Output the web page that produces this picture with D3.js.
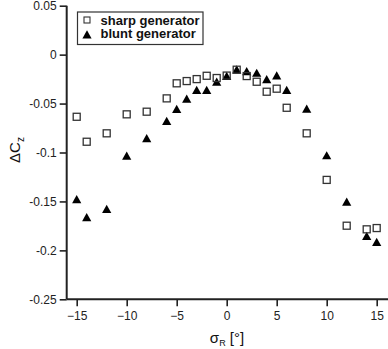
<!DOCTYPE html>
<html>
<head>
<meta charset="utf-8">
<script src="https://cdn.jsdelivr.net/npm/d3@7"></script>
<style>
body{margin:0;background:#fff;}
svg{display:block;font-family:"Liberation Sans",Arial,Helvetica,sans-serif;}
.tick text{font-size:12px;fill:#222;}
</style>
</head>
<body>
<svg id="myGraph" width="388" height="349"></svg>
<script>
// angle values (deg)
var sigma = [-15,-14,-12,-10,-8,-6,-5,-4,-3,-2,-1,0,1,2,3,4,5,6,8,10,12,14,15];
// sharp generator
var sharp = [-0.0635,-0.089,-0.0804,-0.061,-0.0583,-0.0447,-0.0293,-0.027,-0.025,-0.0216,-0.0239,-0.0214,
	-0.0154,-0.0219,-0.0277,-0.0379,-0.0348,-0.0543,-0.0804,-0.128,-0.1748,-0.1785,-0.1772];
// blunt generator
var blunt = [-0.1478,-0.1662,-0.1578,-0.1033,-0.0855,-0.0678,-0.0556,-0.0451,-0.0362,-0.0362,-0.0277,-0.0219,
	-0.0152,-0.017,-0.0186,-0.0251,-0.0212,-0.0362,-0.0553,-0.1029,-0.1503,-0.1853,-0.1915];
var xTicks = [-15,-10,-5,0,5,10,15];
var yTicks = [0.05,0,-0.05,-0.1,-0.15,-0.2,-0.25];
var seriesNames = ["sharp generator","blunt generator"];

var svg = d3.select("#myGraph");

var x = d3.scaleLinear().domain([-16,16]).range([66.7,386.7]);
var y = d3.scaleLinear().domain([-0.25,0.05]).range([299.3,5.7]);

var xAxis = svg.append("g")
	.attr("transform","translate(0,"+y(-0.25)+")")
	.call(d3.axisBottom(x).tickValues(xTicks).tickSize(7).tickPadding(5).tickFormat(d3.format("d")));
var yAxis = svg.append("g")
	.attr("transform","translate("+x(-16)+",0)")
	.call(d3.axisLeft(y).tickValues(yTicks).tickSize(7).tickPadding(3).tickFormat(function(d){return d===0?"0":String(d);}));

[xAxis,yAxis].forEach(function(g){
	g.select(".domain").attr("stroke","#222").attr("stroke-width",2);
	g.selectAll(".tick line").attr("stroke","#222").attr("stroke-width",1.6);
});
xAxis.select(".domain").attr("d","M"+x(-16)+",0H388");
yAxis.select(".domain").attr("d","M0,"+y(0.05)+"V"+y(-0.25));

// triangle path, centred on its box
function tri(cx,cy){
	return "M"+cx+","+(cy-4.2)+"L"+(cx+4.6)+","+(cy+4)+"L"+(cx-4.6)+","+(cy+4)+"Z";
}

// blunt generator first, so squares sit on top like the original
svg.append("g").selectAll("path")
	.data(blunt)
	.enter()
	.append("path")
	.attr("d",function(d,i){return tri(x(sigma[i]),y(d));})
	.attr("fill","#000");

svg.append("g").selectAll("rect")
	.data(sharp)
	.enter()
	.append("rect")
	.attr("x",function(d,i){return x(sigma[i])-3.5;})
	.attr("y",function(d){return y(d)-3.5;})
	.attr("width",7)
	.attr("height",7)
	.attr("fill","none")
	.attr("stroke","#333")
	.attr("stroke-width",1.3);

// legend
var lg = svg.append("g");
lg.append("rect")
	.attr("x",77.5).attr("y",12).attr("width",125.5).attr("height",32.5)
	.attr("fill","#fff").attr("stroke","#333").attr("stroke-width",1.2);
lg.append("rect")
	.attr("x",84).attr("y",17).attr("width",6).attr("height",6)
	.attr("fill","none").attr("stroke","#333").attr("stroke-width",1.1);
lg.append("path").attr("d",tri(87,34.5)).attr("fill","#000");
lg.selectAll("text")
	.data(seriesNames)
	.enter()
	.append("text")
	.attr("x",100.5)
	.attr("y",function(d,i){return 24.5+i*13.5;})
	.attr("font-size","13px")
	.attr("font-weight","bold")
	.attr("fill","#111")
	.text(function(d){return d;});

// axis titles
var yl = svg.append("text")
	.attr("transform","translate(20,150) rotate(-90)")
	.attr("text-anchor","middle")
	.attr("font-size","15px")
	.attr("fill","#111");
yl.append("tspan").text("ΔC");
yl.append("tspan").attr("font-size","10px").attr("dy",4).text("z");

var xl = svg.append("text")
	.attr("x",227).attr("y",343)
	.attr("text-anchor","middle")
	.attr("font-size","15px")
	.attr("fill","#111");
xl.append("tspan").text("σ");
xl.append("tspan").attr("font-size","9px").attr("dy",3).text("R");
xl.append("tspan").attr("dy",-3).text(" [°]");
</script>
</body>
</html>
